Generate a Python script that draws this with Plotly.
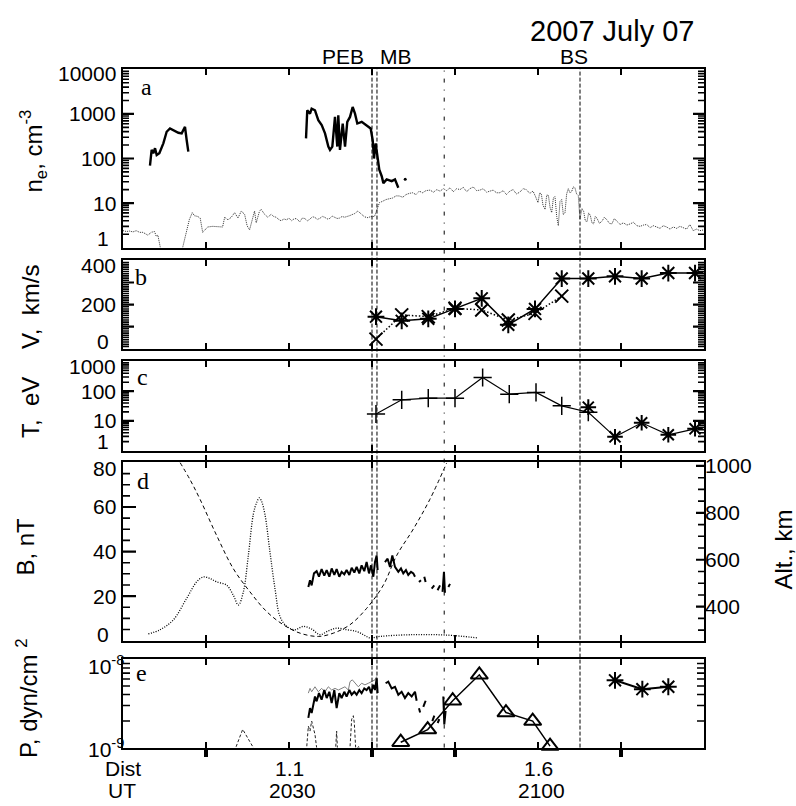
import math
import plotly.graph_objects as go

W, H = 796, 806

# ---------------- data (time = minutes after 20:00 UT) ----------------
# panel a : electron density
ne_aux_t = [10.0, 10.4, 10.8, 11.2, 11.6, 12.0, 12.4, 12.7, 13.0, 13.4,
            13.8, 14.0, 14.2, 14.5, 14.8, 16.9, 17.2, 17.6, 18.0, 18.35,
            18.6, 19.0, 19.3, 19.6, 20.2, 20.8, 21.4, 22.0, 22.25, 22.65,
            23.05, 23.45, 23.85, 24.25, 24.65, 24.95, 25.25, 25.65, 25.85, 26.05,
            26.45, 26.65, 27.05, 27.45, 27.85, 28.15, 28.45, 28.75, 29.05, 29.4,
            29.7, 30.0, 30.3, 30.6, 30.9, 31.1, 31.3, 31.6, 31.9, 32.2,
            32.5, 32.8, 33.1, 33.4, 33.7, 34.0, 34.3, 34.6, 34.9, 35.2,
            35.5, 35.8, 36.1, 36.4, 36.7, 37.0, 37.3, 37.6, 37.9, 38.3,
            38.7, 39.1, 39.5, 39.9, 40.3, 40.6, 40.9, 41.3, 41.7, 42.1,
            42.5, 42.9, 43.3, 43.7, 44.1, 44.5, 44.9, 45.3, 45.7, 46.1,
            46.5, 47.0, 47.4, 47.8, 48.2, 48.6, 49.0, 49.4, 49.8, 50.2,
            50.6, 51.0, 51.4, 51.8, 52.2, 52.6, 53.0, 53.4, 53.8, 54.2,
            54.6, 55.0, 55.4, 55.8, 56.2, 56.6, 57.0, 57.4, 57.8, 58.2,
            58.6, 59.0, 59.4, 59.7, 60.0, 60.2, 60.4, 60.6, 60.85, 61.05,
            61.25, 61.45, 61.65, 61.85, 62.05, 62.25, 62.45, 62.65, 62.85, 63.05,
            63.25, 63.45, 63.65, 63.85, 64.05, 64.25, 64.45, 64.65, 64.85, 65.05,
            65.3, 65.5, 65.7, 65.9, 66.1, 66.3, 66.5, 66.7, 66.9, 67.1,
            67.4, 67.7, 68.0, 68.3, 68.6, 68.9, 69.2, 69.5, 69.9, 70.3,
            70.7, 71.1, 71.5, 71.9, 72.3, 72.7, 73.1, 73.5, 73.9, 74.3,
            74.7, 75.1, 75.5, 75.9, 76.3, 76.7, 77.1, 77.5, 77.9, 78.3,
            78.5, 78.7, 79.1, 79.5, 80.0]
ne_aux_v = [2.4, 2.3, 2.35, 2.25, 2.4, 2.2, 2.2, 2.0, 1.9, 2.2,
            2.3, 1.8, 1.9, 1.0, 0.6, 0.6, 1.0, 2.2, 4.3, 6.1,
            5.2, 5.0, 4.6, 2.2, 2.9, 3.0, 3.0, 2.9, 4.8, 4.2,
            4.8, 6.1, 4.6, 6.6, 5.6, 3.1, 2.5, 4.8, 6.6, 3.6,
            6.6, 7.2, 5.6, 4.8, 5.6, 5.0, 4.8, 4.3, 4.0, 4.4,
            4.2, 4.6, 4.0, 4.4, 4.5, 4.1, 3.8, 4.6, 4.5, 4.0,
            4.3, 4.9, 4.8, 4.3, 4.5, 5.0, 4.8, 4.4, 4.5, 5.1,
            4.8, 4.5, 4.6, 5.0, 4.8, 4.9, 5.2, 5.5, 5.8, 6.6,
            5.6, 4.9, 4.7, 5.0, 5.0, 7.2, 10.2, 11.0, 12.0, 12.5,
            13.0, 14.5, 14.4, 13.5, 15.5, 16.5, 17.0, 15.5, 18.5, 17.0,
            19.0, 19.5, 17.5, 20.0, 18.5, 21.0, 19.0, 22.0, 18.0, 21.0,
            20.0, 22.5, 18.0, 21.0, 23.0, 19.0, 19.5, 21.0, 17.5, 18.5,
            19.5, 17.0, 17.0, 19.0, 15.5, 18.5, 20.0, 16.0, 17.5, 21.0,
            20.0, 16.5, 18.5, 14.0, 10.2, 17.0, 16.0, 9.0, 7.2, 15.0,
            15.0, 8.0, 6.1, 13.0, 14.0, 5.0, 3.1, 11.0, 12.0, 5.5,
            6.0, 16.0, 21.0, 17.0, 18.0, 23.0, 22.0, 16.0, 15.0, 4.4,
            7.5, 6.5, 4.0, 3.8, 6.0, 5.3, 3.6, 3.4, 5.0, 4.6,
            3.5, 3.9, 4.8, 4.2, 3.5, 3.4, 4.5, 3.9, 3.3, 3.6,
            3.2, 3.4, 3.7, 3.1, 3.0, 3.2, 3.3, 2.8, 3.1, 2.9,
            2.7, 3.1, 2.9, 2.6, 2.9, 2.7, 3.0, 2.8, 2.6, 3.3,
            2.8, 2.4, 2.6, 2.4, 2.5]

ne_s1_t = [13.25, 13.45, 13.65, 13.86, 14.06, 14.38, 14.86, 15.26, 15.66, 16.06,
           16.67, 17.07, 17.27, 17.47, 17.67, 17.87]
ne_s1_v = [69, 156, 131, 170, 120, 131, 219, 398, 472, 434,
           378, 366, 434, 514, 260, 143]

ne_s2_t = [32.05, 32.2, 32.53, 32.73, 33.13, 33.53, 33.94, 34.34, 34.74, 34.94,
           35.22, 35.54, 35.82, 35.94, 36.14, 36.47, 36.75, 37.02, 37.35, 37.67,
           37.95, 38.23, 38.76, 39.36, 39.84, 40.08, 40.24, 40.44, 40.64, 40.88,
           41.17, 41.37, 41.77, 42.37, 42.77, 43.17]
ne_s2_v = [283, 1208, 1017, 1315, 1208, 723, 560, 366, 185, 156,
           185, 857, 185, 933, 156, 610, 185, 664, 857, 1432,
           1017, 610, 664, 560, 472, 260, 100, 219, 131, 56,
           40, 28, 34, 31, 34, 22]
ne_pt_t = [44.0]
ne_pt_v = [34]

# panel b : velocity
v_star_t = [40.48, 43.58, 46.78, 50.0, 53.22, 56.42, 59.64, 62.86, 66.06, 69.28, 72.49, 75.7, 78.92]
v_star_v = [145, 126, 135, 180, 228, 108, 180, 318, 318, 328, 318, 343, 343]
v_x_t = [40.48, 43.58, 46.78, 50.0, 53.22, 56.42, 59.64, 62.86]
v_x_v = [43, 153, 145, 183, 175, 130, 160, 238]

# panel c : temperature
t_plus_t = [40.48, 43.58, 46.78, 50.0, 53.33, 56.54, 59.76, 62.86, 66.06]
t_plus_v = [17, 51, 58, 58, 288, 79, 91, 32, 19.5]
t_star_t = [66.06, 69.28, 72.49, 75.7, 78.92]
t_star_v = [29, 2.9, 8.6, 3.4, 5.4]

# panel d : magnetic field and altitude
b_mod_t = [13.05, 14.46, 16.06, 17.67, 18.88, 19.68, 20.48, 21.29, 22.49, 23.29,
           23.9, 24.5, 25.1, 25.7, 26.1, 26.43, 26.7, 27.1, 27.71, 28.31,
           28.92, 29.72, 30.72, 31.73, 32.73, 33.73, 34.74, 35.74, 36.95, 38.15,
           38.96, 39.76, 40.96, 44.98, 48.99, 52.8]
b_mod_v = [3.0, 4.9, 9.3, 19.0, 26.4, 28.6, 27.9, 26.4, 24.9, 20.4,
           16.0, 21.9, 38.2, 56.7, 62.0, 64.1, 62.5, 56.7, 39.7, 23.4,
           10.8, 6.4, 4.9, 6.4, 5.2, 2.7, 4.4, 5.6, 4.9, 4.1,
           2.7, 1.2, 1.9, 2.7, 2.5, 1.2]
b_obs_t = [32.33, 32.53, 32.73, 33.01, 33.33, 33.61, 33.93, 34.25, 34.54, 34.86,
           35.14, 35.46, 35.74, 36.06, 36.34, 36.66, 36.94, 37.27, 37.55, 37.87,
           38.15, 38.47, 38.75, 39.07, 39.35, 39.64, 39.88, 40.16, 40.36, 40.56,
           40.68, 41.1, 41.56, 41.88, 42.17, 42.45, 42.77, 43.17, 43.49, 43.77,
           44.09, 44.37, 44.70, 44.98, 45.18, 45.4, 45.66, 45.9, 46.1, 46.3,
           46.46, 46.8, 47.19, 47.5, 47.7, 47.9, 48.2, 48.35, 48.5, 48.67,
           48.79, 49.0, 49.2, 49.4]
b_obs_v = [24.1, 27.1, 24.8, 30.2, 31.2, 28.7, 32.1, 29.2, 31.7, 28.7,
           32.4, 29.5, 32.1, 28.7, 30.9, 29.8, 31.7, 29.5, 32.7, 30.6,
           33.1, 30.2, 33.8, 31.2, 35.3, 30.2, 33.8, 28.7, 35.3, 38.2,
           31.7, None, 35.3, 36.8, 33.1, 38.2, 33.1, 30.9, 32.4, 30.2,
           31.7, 29.5, 30.9, 30.2, 28.7, None, 26.3, 27.1, None, 28.7,
           26.3, None, 23.4, 24.8, None, 22.6, 24.8, None, 21.9, 30.9,
           21.5, None, 24.1, 25.5]
alt_t = [16.87, 18.07, 19.28, 21.29, 23.29, 25.3, 27.31, 29.31, 31.33, 33.53,
         35.34, 37.35, 39.36, 41.37, 42.97, 44.98, 46.98, 49.0]
alt_v = [1015, 942, 858, 703, 562, 463, 379, 323, 287, 273,
         287, 323, 393, 492, 618, 731, 858, 1013]

# panel e : pressure (values in units of 1e-9 dyn/cm^2)
p_thick_t = [32.33, 32.53, 32.73, 32.93, 33.13, 33.33, 33.61, 33.93, 34.25, 34.54,
             34.86, 35.14, 35.46, 35.74, 36.06, 36.34, 36.66, 36.94, 37.27, 37.55,
             37.87, 38.15, 38.47, 38.75, 39.07, 39.35, 39.64, 39.88, 40.16, 40.36,
             40.56, 40.68, 41.1, 41.64, 41.96, 42.37, 42.77, 43.17, 43.57, 43.97,
             44.37, 44.78, 45.18, 45.38, 45.5, 45.66, 45.8, 46.0, 46.18, 46.46, 46.8,
             47.27, 47.51, 47.7, 47.91, 48.11, 48.3, 48.59, 48.71, 48.87]
p_thick_n = [2.17, 2.8, 2.47, 3.07, 3.8, 3.35, 4.15, 3.5, 4.5, 3.65,
             4.3, 3.2, 4.5, 2.8, 4.15, 3.65, 4.3, 3.8, 4.5, 3.98,
             4.3, 3.98, 4.5, 4.15, 4.7, 4.5, 4.9, 4.15, 5.15, 4.5,
             6.1, 4.15, None, 5.37, 5.6, 4.7, 4.9, 3.98, 4.3, 3.65,
             4.15, 3.8, 4.3, 3.4, None, 2.8, 2.5, None, 2.9, 3.4, None,
             2.0, 2.3, None, 1.9, 2.1, None, 3.8, 1.83, 2.6]
p_thin_t = [32.33, 32.53, 32.73, 33.13, 33.53, 33.93, 34.33, 34.74, 35.14, 35.54,
            35.94, 36.34, 36.74, 37.15, 37.35, 37.63, 37.95, 38.35, 38.75, 39.15,
            39.56, 39.96, 40.36, 40.56]
p_thin_n = [4.15, 4.7, 4.3, 4.9, 4.3, 4.7, 4.3, 4.9, 4.5, 4.7,
            4.5, 4.7, 4.9, 4.5, 5.6, 5.87, 5.37, 4.9, 5.37, 5.15,
            5.37, 5.6, 5.87, 6.4]
p_dash_t = [23.2, 24.42, 26.3, 27.0, 31.95, 32.13, 32.33, 32.53, 32.73, 32.93,
            33.13, 33.33, 33.6, 34.5, 35.6, 35.74, 35.85, 36.5, 37.2, 37.35,
            37.55, 37.75, 37.87, 38.03, 38.2, 38.35, 38.5]
p_dash_n = [0.8, 1.61, 0.8, None, 0.8, 1.0, 1.75, 1.54, 2.0, 1.65,
            1.41, 1.0, 0.8, None, 0.9, 1.54, 0.9, None, 0.8, 1.0,
            2.1, 2.3, 1.9, 1.0, 0.95, 1.05, 0.95]
p_tri_t = [43.46, 46.71, 49.72, 52.93, 56.14, 59.36, 61.45]
p_tri_n = [1.15, 1.6, 3.4, 6.7, 2.5, 2.0, 1.04]
p_star_t = [69.28, 72.57, 75.7]
p_star_n = [5.8, 4.6, 4.9]

# boundaries
bound_t = [40.0, 40.6, 48.7, 65.06]
bound_dash = ['4px,2px', '4px,2px', '4px,7px,1px,7px', '4px,2px']
bound_names = ['PEB', 'MB', 'BS']

# axes / labels
x_range = [10, 80]
x_ticks = [20, 30, 40, 50, 60, 70]
dist_marks = [20, 40, 50, 70]
bottom_ticks = [30, 60]
dist_labels = ['1.1', '1.6']
ut_labels = ['2030', '2100']
ya_vals, ya_text = [1, 10, 100, 1000, 10000], ['1', '10', '100', '1000', '10000']
yb_vals, yb_text = [0, 200, 400], ['0', '200', '400']
yc_vals, yc_text = [1, 10, 100, 1000], ['1', '10', '100', '1000']
yd_vals, yd_text = [0, 20, 40, 60, 80], ['0', '20', '40', '60', '80']
ye_vals, ye_text = [1e-9, 1e-8], ['10<sup>-9</sup>', '10<sup>-8</sup>']
alt_vals = [400, 600, 800, 1000]

# ---------------- figure ----------------
def px(x):
    return x / W


def py(y):
    return 1 - y / H


def nano(lst):
    return [None if v is None else v * 1e-9 for v in lst]


SANS = 'Liberation Sans, Arial, sans-serif'
SERIF = 'Liberation Serif, Times New Roman, serif'
XL, XR = 123, 704
P = {'a': (62, 242), 'b': (255, 344), 'c': (357, 447), 'd': (459, 639), 'e': (658, 747)}
MIN_PER_PX = (x_range[1] - x_range[0]) / (XR - XL)   # tick length conversion

fig = go.Figure()
K = 'black'

# panel a
fig.add_trace(go.Scatter(x=ne_aux_t, y=ne_aux_v, mode='lines',
                         line=dict(color='#303030', width=1, dash='1px,1px'), xaxis='x', yaxis='y'))
fig.add_trace(go.Scatter(x=ne_s1_t, y=ne_s1_v, mode='lines',
                         line=dict(color=K, width=2.4), xaxis='x', yaxis='y'))
fig.add_trace(go.Scatter(x=ne_s2_t, y=ne_s2_v, mode='lines',
                         line=dict(color=K, width=2.4), xaxis='x', yaxis='y'))
fig.add_trace(go.Scatter(x=ne_pt_t, y=ne_pt_v, mode='markers',
                         marker=dict(color=K, size=3), xaxis='x', yaxis='y'))

# panel b
fig.add_trace(go.Scatter(x=v_x_t, y=v_x_v, mode='lines+markers',
                         line=dict(color=K, width=1.5, dash='1.5px,2px'),
                         marker=dict(symbol='x-thin-open', size=13, color=K, line=dict(color=K, width=2)),
                         xaxis='x2', yaxis='y2'))
fig.add_trace(go.Scatter(x=v_star_t, y=v_star_v, mode='lines+markers',
                         line=dict(color=K, width=1.5),
                         marker=dict(symbol='asterisk-open', size=14, color=K, line=dict(color=K, width=2)),
                         xaxis='x2', yaxis='y2'))

# panel c
fig.add_trace(go.Scatter(x=t_plus_t + t_star_t[1:], y=t_plus_v + t_star_v[1:], mode='lines',
                         line=dict(color=K, width=1.2), xaxis='x3', yaxis='y3'))
fig.add_trace(go.Scatter(x=t_plus_t, y=t_plus_v, mode='markers',
                         marker=dict(symbol='cross-thin-open', size=13, color=K, line=dict(color=K, width=1.5)),
                         xaxis='x3', yaxis='y3'))
fig.add_trace(go.Scatter(x=t_star_t, y=t_star_v, mode='markers',
                         marker=dict(symbol='asterisk-open', size=13, color=K, line=dict(color=K, width=2)),
                         xaxis='x3', yaxis='y3'))

# panel d
fig.add_trace(go.Scatter(x=b_mod_t, y=b_mod_v, mode='lines', line_shape='spline',
                         line=dict(color=K, width=1.3, dash='1px,1.5px'), xaxis='x4', yaxis='y4'))
fig.add_trace(go.Scatter(x=b_obs_t, y=b_obs_v, mode='lines',
                         line=dict(color=K, width=2), xaxis='x4', yaxis='y4'))
fig.add_trace(go.Scatter(x=alt_t, y=alt_v, mode='lines', line_shape='spline',
                         line=dict(color=K, width=1, dash='4px,3px'), xaxis='x4', yaxis='y6'))

# panel e   (x6 = same scale as x5, carries the distance marks)
fig.add_trace(go.Scatter(x=p_dash_t, y=nano(p_dash_n), mode='lines',
                         line=dict(color='#222', width=1, dash='3px,2px'), xaxis='x6', yaxis='y5'))
fig.add_trace(go.Scatter(x=p_thin_t, y=nano(p_thin_n), mode='lines',
                         line=dict(color='#808080', width=1), xaxis='x5', yaxis='y5'))
fig.add_trace(go.Scatter(x=p_thick_t, y=nano(p_thick_n), mode='lines',
                         line=dict(color=K, width=2), xaxis='x5', yaxis='y5'))
fig.add_trace(go.Scatter(x=p_tri_t, y=nano(p_tri_n), mode='lines+markers', cliponaxis=False,
                         line=dict(color=K, width=1.5),
                         marker=dict(symbol='triangle-up-open', size=15, color=K, line=dict(color=K, width=2)),
                         xaxis='x5', yaxis='y5'))
fig.add_trace(go.Scatter(x=p_star_t, y=nano(p_star_n), mode='lines+markers',
                         line=dict(color=K, width=2),
                         marker=dict(symbol='asterisk-open', size=14, color=K, line=dict(color=K, width=2)),
                         xaxis='x5', yaxis='y5'))

# axes
def xax(panel):
    return dict(range=x_range, domain=[px(XL), px(XR)],
                anchor={'a': 'y', 'b': 'y2', 'c': 'y3', 'd': 'y4', 'e': 'y5'}[panel],
                showline=True, linecolor=K, linewidth=1.5, mirror='allticks', ticks='inside',
                ticklen=6, tickwidth=2, tickcolor=K, tickmode='array', tickvals=x_ticks,
                showticklabels=False, showgrid=False, zeroline=False)


def yax(panel, anchor, **kw):
    top, bot = P[panel]
    d = dict(domain=[py(bot), py(top)], anchor=anchor, showline=True, linecolor=K, linewidth=1.5,
             mirror=True, ticks='', showticklabels=False, showgrid=False, zeroline=False)
    d.update(kw)
    return d


fig.update_layout(
    width=W, height=H, margin=dict(l=0, r=0, t=0, b=0),
    paper_bgcolor='white', plot_bgcolor='rgba(0,0,0,0)', showlegend=False,
    font=dict(family=SANS, color=K, size=21),
    xaxis=xax('a'), xaxis2=xax('b'), xaxis3=xax('c'), xaxis4=xax('d'), xaxis5=xax('e'),
    xaxis6=dict(range=x_range, overlaying='x5', anchor='y5', side='bottom', showline=False,
                ticks='outside', ticklen=8, tickwidth=4, tickcolor=K, tickmode='array',
                tickvals=dist_marks, showticklabels=False, showgrid=False, zeroline=False),
    yaxis=yax('a', 'x', type='log', range=[0, 4]),
    yaxis2=yax('b', 'x2', range=[0, 400]),
    yaxis3=yax('c', 'x3', type='log', range=[0, 3]),
    yaxis4=yax('d', 'x4', range=[0, 80]),
    yaxis5=yax('e', 'x5', type='log', range=[-9, -8]),
    yaxis6=dict(range=[255, 1015], overlaying='y4', anchor='x4', side='right', showline=False,
                ticks='', tickmode='array', tickvals=alt_vals,
                showticklabels=True, tickfont=dict(size=21, family=SANS),
                showgrid=False, zeroline=False),
)

# tick marks along the vertical frames, drawn as short segments through each panel's axes
def yticks(xa, ya, vals, ln_px, sides=('l', 'r'), width=2.2):
    L = ln_px * MIN_PER_PX
    xs, ys = [], []
    for v in vals:
        if 'l' in sides:
            xs += [x_range[0], x_range[0] + L, None]
            ys += [v, v, None]
        if 'r' in sides:
            xs += [x_range[1] - L, x_range[1], None]
            ys += [v, v, None]
    fig.add_trace(go.Scatter(x=xs, y=ys, mode='lines', line=dict(color=K, width=width, simplify=False),
                             xaxis=xa, yaxis=ya, hoverinfo='skip', connectgaps=False, cliponaxis=False))


log_minor_a = [m * 10 ** k for k in range(0, 4) for m in range(2, 10)]
log_minor_c = [m * 10 ** k for k in range(0, 3) for m in range(2, 10)]
lin_major_b = [100, 200, 300]
lin_minor_b = [v for v in range(10, 400, 10) if v % 100]
lin_minor_d = [v for v in range(5, 80, 5) if v % 20]
alt_minor = [v for v in range(300, 1001, 50) if v not in alt_vals]
log_minor_e = [m * 1e-9 for m in range(2, 10)]

yticks('x', 'y', ya_vals[1:-1], 11)
yticks('x', 'y', log_minor_a, 6, width=1.6)
yticks('x2', 'y2', lin_major_b, 11)
yticks('x2', 'y2', lin_minor_b, 6, width=1.6)
yticks('x3', 'y3', yc_vals[1:-1], 11)
yticks('x3', 'y3', log_minor_c, 6, width=1.6)
yticks('x4', 'y4', yd_vals[1:-1], 13, sides=('l',))
yticks('x4', 'y4', lin_minor_d, 7, sides=('l',), width=1.6)
yticks('x4', 'y6', alt_vals, 8, sides=('r',))
yticks('x4', 'y6', alt_minor, 6, sides=('r',), width=1.6)
yticks('x5', 'y5', log_minor_e, 7, width=1.6)

# y tick labels placed as text next to each axis
def ylabels(yref, vals, texts, logaxis, top_shift, bot_shift, xr=118):
    n = len(vals)
    for i, (v, s) in enumerate(zip(vals, texts)):
        yy = math.log10(v) if logaxis else v
        shift = bot_shift if i == 0 else (top_shift if i == n - 1 else 0)
        single = len(s) == 1
        fig.add_annotation(x=px(103) if single else px(xr), xanchor='center' if single else 'right',
                           xref='paper', y=yy, yref=yref, yanchor='middle', yshift=shift,
                           text=s, showarrow=False, font=dict(family=SANS, size=21, color=K))


ylabels('y', ya_vals, ya_text, True, -4, 9)
ylabels('y2', yb_vals, yb_text, False, -5, 7)
ylabels('y3', yc_vals, yc_text, True, -5, 9)
ylabels('y4', yd_vals, yd_text, False, -6, 6)
ylabels('y5', ye_vals, ye_text, True, -6, 0, xr=126)

# boundary lines
for t, dsh in zip(bound_t, bound_dash):
    fig.add_shape(type='line', xref='x', yref='paper', x0=t, x1=t, y0=py(747), y1=py(62),
                  line=dict(color=K, width=1, dash=dsh))


def text(x, y, s, size=21, family=SANS, angle=0, xanchor='center'):
    fig.add_annotation(x=px(x), y=py(y), xref='paper', yref='paper', text=s, showarrow=False,
                       xanchor=xanchor, yanchor='middle', textangle=angle,
                       font=dict(family=family, size=size, color=K))


text(612, 23, '2007 July 07', size=29)
text(343, 49, bound_names[0])
text(396, 49, bound_names[1])
text(574, 49, bound_names[2])

# panel letters
for (x, y, s) in [(146, 80, 'a'), (141, 272, 'b'), (142, 373, 'c'), (143, 478, 'd'), (141, 672, 'e')]:
    text(x, y, s, size=24, family=SERIF)

# axis titles
text(33, 145, 'n<sub>e</sub>, cm<sup>-3</sup>', size=24, angle=-90)
text(30, 302, 'V,&nbsp;&nbsp;km/s', size=24, angle=-90)
text(30, 403, 'T,&nbsp;&nbsp;eV', size=24, angle=-90)
text(26, 544, 'B, nT', size=24, angle=-90)
text(27, 697, 'P, dyn/cm <sup>2</sup>', size=24, angle=-90)
text(784, 547, 'Alt., km', size=24, angle=-90)

# bottom axis labels
text(123, 768, 'Dist')
text(122, 790, 'UT')
for t, d, u in zip(bottom_ticks, dist_labels, ut_labels):
    fig.add_annotation(x=t, y=py(768), xref='x5', yref='paper', text=d, showarrow=False,
                       yanchor='middle', font=dict(family=SANS, size=21, color=K))
    fig.add_annotation(x=t + 0.4, y=py(790), xref='x5', yref='paper', text=u, showarrow=False,
                       yanchor='middle', font=dict(family=SANS, size=21, color=K))

fig.write_html('out.html')
